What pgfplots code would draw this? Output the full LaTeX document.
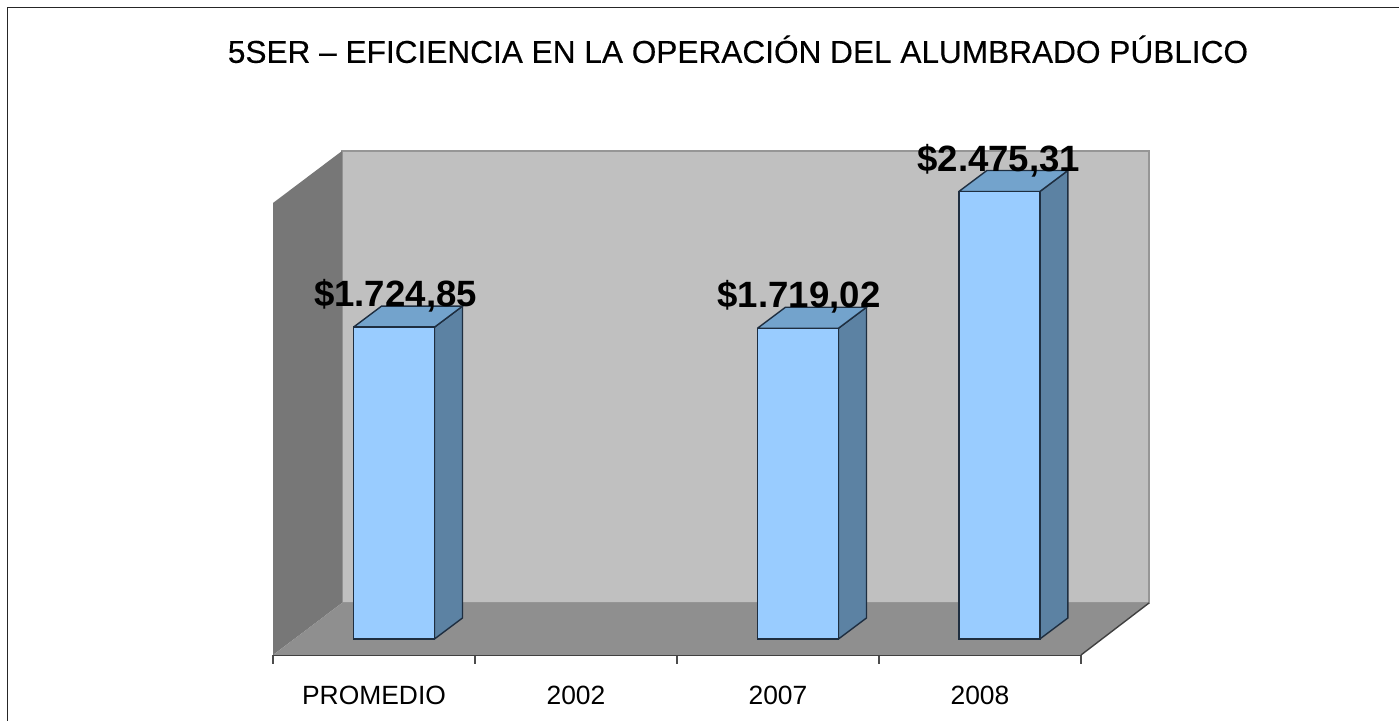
\documentclass[border=0pt]{standalone}
\usepackage{pgfplots}
\pgfplotsset{compat=1.18}
\usepackage{fontspec}
\setmainfont{Liberation Sans}
\newfontfamily\heavier[FakeBold=0.25]{Liberation Sans}
\definecolor{wallL}{HTML}{777777}
\definecolor{wallB}{HTML}{C0C0C0}
\definecolor{floorC}{HTML}{8F8F8F}
\definecolor{edgeW}{HTML}{969696}
\definecolor{barF}{HTML}{99CCFF}
\definecolor{barT}{HTML}{73A3CC}
\definecolor{barS}{HTML}{5C82A3}
\definecolor{barE}{HTML}{1E2E40}
\begin{document}
\begin{tikzpicture}
\useasboundingbox (0,0) rectangle (699.5pt,360.5pt);
\fill[white] (0,0) rectangle (699.5pt,360.5pt);
\draw[line width=0.8pt,color=black!85] (3.75pt,0) -- (3.75pt,356.75pt) -- (699.5pt,356.75pt);
\begin{axis}[
  at={(136.5pt,33pt)}, anchor=south west,
  scale only axis, width=404pt, height=226pt,
  xmin=-0.5, xmax=3.5, ymin=-88.5, ymax=2411.8,
  clip=false,
  axis y line=none,
  axis x line=bottom,
  axis line style={-, line width=1pt, color=black!75},
  xtick={0,1,2,3},
  xticklabels={PROMEDIO,2002,2007,2008},
  minor xtick={-0.5,0.5,1.5,2.5,3.5},
  major tick length=0pt,
  minor tick length=4.5pt,
  tick align=outside,
  tick style={color=black!70, line width=0.7pt},
  xticklabel style={font=\fontsize{13.2pt}{15pt}\selectfont, text=black, yshift=-12pt},
  title={5SER – EFICIENCIA EN LA OPERACIÓN DEL ALUMBRADO PÚBLICO},
  title style={at={(axis description cs:0.5755,1.3135)}, anchor=center, font=\heavier\fontsize{15.8pt}{19pt}\selectfont},
  no markers,
]
% walls and floor
\addplot[fill=wallB, draw=edgeW, line width=0.6pt] coordinates {(-0.1584,199.1) (-0.1584,2699.4) (3.8366,2699.4) (3.8366,199.1) (-0.1584,199.1)};
\addplot[fill=wallL, draw=none] coordinates {(-0.5,-88.5) (-0.5,2411.8) (-0.1584,2699.4) (-0.1584,199.1) (-0.5,-88.5)};
\addplot[fill=floorC, draw=none] coordinates {(-0.5,-88.5) (3.5,-88.5) (3.8366,199.1) (-0.1584,199.1) (-0.5,-88.5)};
\addplot[draw=black!75, line width=0.7pt] coordinates {(3.5,-88.5) (3.8366,199.1)};
% bars: sides
\addplot[fill=barS, draw=barE, line width=0.7pt] coordinates {(0.2995,0) (0.4381,116.2) (0.4381,1841.05) (0.2995,1724.85) (0.2995,0)};
\addplot[fill=barS, draw=barE, line width=0.7pt] coordinates {(2.2995,0) (2.4381,116.2) (2.4381,1835.22) (2.2995,1719.02) (2.2995,0)};
\addplot[fill=barS, draw=barE, line width=0.7pt] coordinates {(3.2965,0) (3.4351,116.2) (3.4351,2591.51) (3.2965,2475.31) (3.2965,0)};
% bars: tops
\addplot[fill=barT, draw=barE, line width=0.7pt] coordinates {(-0.1015,1724.85) (0.0371,1841.05) (0.4381,1841.05) (0.2995,1724.85) (-0.1015,1724.85)};
\addplot[fill=barT, draw=barE, line width=0.7pt] coordinates {(1.8985,1719.02) (2.0371,1835.22) (2.4381,1835.22) (2.2995,1719.02) (1.8985,1719.02)};
\addplot[fill=barT, draw=barE, line width=0.7pt] coordinates {(2.8955,2475.31) (3.0341,2591.51) (3.4351,2591.51) (3.2965,2475.31) (2.8955,2475.31)};
% bars: fronts
\addplot[ybar, bar width=40.5pt, bar shift=10pt, fill=barF, draw=barE, line width=0.7pt] coordinates {(0,1724.85) (2,1719.02)};
\addplot[ybar, bar width=40.5pt, bar shift=9.7pt, fill=barF, draw=barE, line width=0.7pt] coordinates {(3,2475.31)};
% data labels
\node[font=\bfseries\fontsize{18.3pt}{21pt}\selectfont] at (axis cs:0.1064,1900) {\$1.724,85};
\node[font=\bfseries\fontsize{18.3pt}{21pt}\selectfont] at (axis cs:2.104,1895) {\$1.719,02};
\node[font=\bfseries\fontsize{18.3pt}{21pt}\selectfont] at (axis cs:3.093,2643) {\$2.475,31};
\end{axis}
\end{tikzpicture}
\end{document}
